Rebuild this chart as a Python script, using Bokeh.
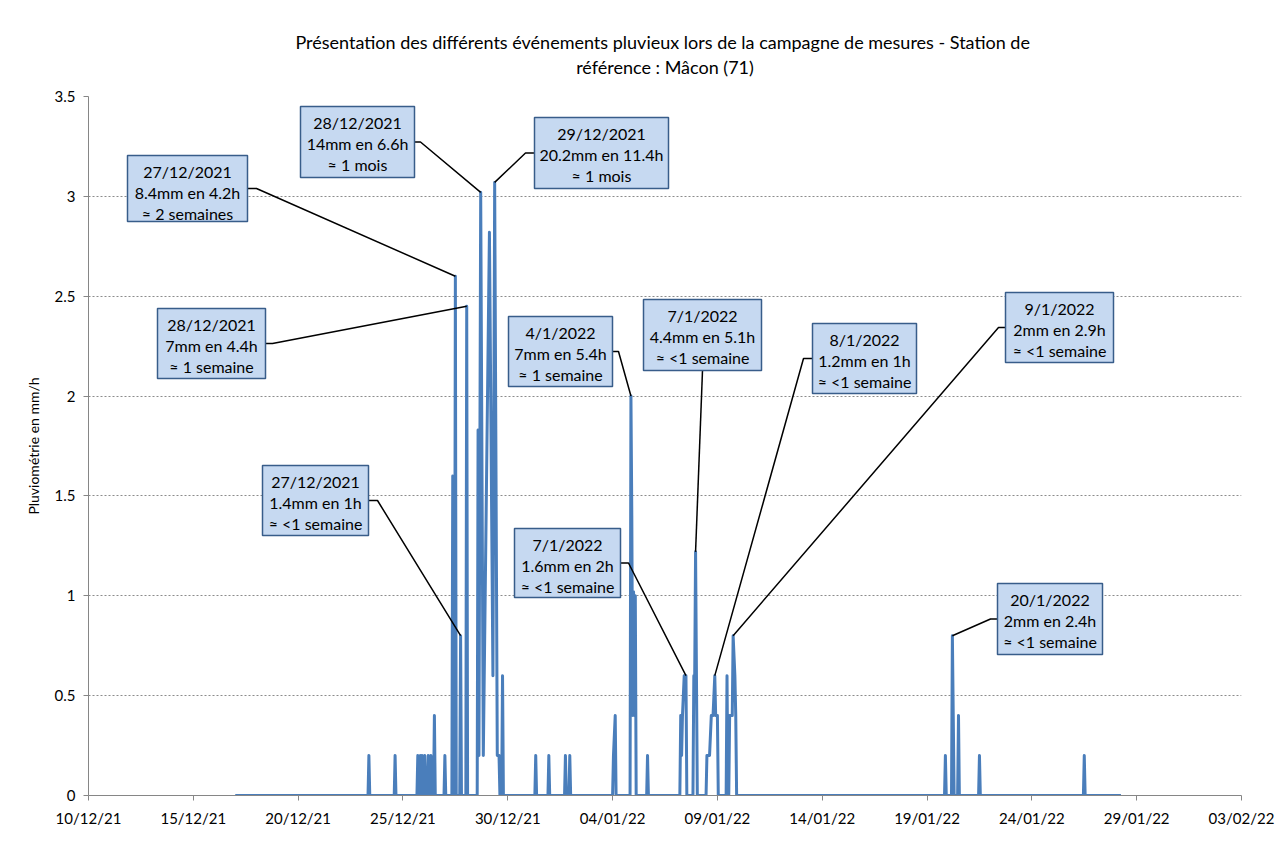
import datetime as dt
from bokeh.plotting import figure
from bokeh.models import (Range1d, FixedTicker, DatetimeTickFormatter, NumeralTickFormatter, Title)
from bokeh.embed import file_html
from bokeh.resources import INLINE
from bokeh.core.properties import value

# ---------------------------------------------------------------- data
TITLE_LINES = ["Présentation des différents événements pluvieux lors de la campagne de mesures  - Station de",
               "référence : Mâcon (71)"]
Y_LABEL = "Pluviométrie en mm/h"

rain_time = [
    "2021-12-17 00:00",
    "2021-12-23 08:00", "2021-12-23 09:00", "2021-12-23 10:00",
    "2021-12-24 14:00", "2021-12-24 15:00", "2021-12-24 16:00",
    "2021-12-25 16:00", "2021-12-25 17:00", "2021-12-25 18:00", "2021-12-25 19:00", "2021-12-25 20:00",
    "2021-12-25 21:00", "2021-12-25 22:00", "2021-12-25 23:00",
    "2021-12-26 00:00", "2021-12-26 01:00", "2021-12-26 02:00",
    "2021-12-26 04:00", "2021-12-26 05:00", "2021-12-26 06:00", "2021-12-26 07:00", "2021-12-26 08:00",
    "2021-12-26 09:00",
    "2021-12-26 11:00", "2021-12-26 12:00", "2021-12-26 13:00",
    "2021-12-26 23:00", "2021-12-27 00:00", "2021-12-27 01:00",
    "2021-12-27 08:00", "2021-12-27 09:00", "2021-12-27 10:00", "2021-12-27 11:00", "2021-12-27 12:00",
    "2021-12-27 13:00",
    "2021-12-27 17:00", "2021-12-27 18:00", "2021-12-27 19:00",
    "2021-12-28 00:00", "2021-12-28 01:00", "2021-12-28 02:00",
    "2021-12-28 13:00", "2021-12-28 14:00", "2021-12-28 15:00", "2021-12-28 17:00", "2021-12-28 20:00",
    "2021-12-29 03:00", "2021-12-29 07:00", "2021-12-29 09:00", "2021-12-29 12:00", "2021-12-29 14:00",
    "2021-12-29 15:00", "2021-12-29 17:00", "2021-12-29 18:00", "2021-12-29 19:00",
    "2021-12-31 07:00", "2021-12-31 08:00", "2021-12-31 09:00",
    "2021-12-31 22:00", "2021-12-31 23:00", "2022-01-01 00:00",
    "2022-01-01 17:00", "2022-01-01 18:00", "2022-01-01 19:00",
    "2022-01-01 22:00", "2022-01-01 23:00", "2022-01-02 00:00",
    "2022-01-04 00:00", "2022-01-04 01:00", "2022-01-04 03:00", "2022-01-04 04:00",
    "2022-01-04 20:00", "2022-01-04 21:00", "2022-01-04 22:00", "2022-01-04 23:00", "2022-01-05 00:00",
    "2022-01-05 01:00", "2022-01-05 02:00", "2022-01-05 03:00",
    "2022-01-05 15:00", "2022-01-05 16:00", "2022-01-05 17:00",
    "2022-01-07 05:00", "2022-01-07 06:00", "2022-01-07 07:00", "2022-01-07 08:00", "2022-01-07 10:00",
    "2022-01-07 12:00", "2022-01-07 13:00",
    "2022-01-07 20:00", "2022-01-07 21:00", "2022-01-07 22:00", "2022-01-07 23:00", "2022-01-08 00:00",
    "2022-01-08 01:00",
    "2022-01-08 11:00", "2022-01-08 12:00", "2022-01-08 15:00", "2022-01-08 17:00", "2022-01-08 19:00",
    "2022-01-08 21:00", "2022-01-08 22:00", "2022-01-09 00:00", "2022-01-09 01:00",
    "2022-01-09 10:00", "2022-01-09 11:00", "2022-01-09 12:00", "2022-01-09 13:00", "2022-01-09 14:00",
    "2022-01-09 17:00", "2022-01-09 18:00", "2022-01-09 20:00", "2022-01-09 21:00", "2022-01-09 22:00",
    "2022-01-19 20:00", "2022-01-19 21:00", "2022-01-19 22:00",
    "2022-01-20 04:00", "2022-01-20 05:00", "2022-01-20 06:00", "2022-01-20 07:00",
    "2022-01-20 11:00", "2022-01-20 12:00", "2022-01-20 13:00",
    "2022-01-21 11:00", "2022-01-21 12:00", "2022-01-21 13:00",
    "2022-01-26 11:00", "2022-01-26 12:00", "2022-01-26 13:00",
    "2022-01-28 06:00",
]
rain_mm_h = [
    0,
    0, 0.2, 0,
    0, 0.2, 0,
    0, 0.2, 0, 0, 0.2,
    0, 0.2, 0,
    0, 0.2, 0,
    0, 0.2, 0, 0, 0.2,
    0,
    0, 0.4, 0,
    0, 0.2, 0,
    0, 1.6, 0, 0, 2.6,
    0,
    0, 0.8, 0,
    0, 2.45, 0,
    0, 1.83, 0.2, 3.02, 0.2,
    2.82, 0.6, 3.07, 0.2, 0.2,
    0, 0, 0.6, 0,
    0, 0.2, 0,
    0, 0.2, 0,
    0, 0.2, 0,
    0, 0.2, 0,
    0, 0.2, 0.4, 0,
    0, 2.0, 1.4, 0.4, 1.02,
    0.4, 1.0, 0,
    0, 0.2, 0,
    0, 0.4, 0.2, 0.4, 0.6,
    0.6, 0,
    0, 0.6, 0.6, 1.22, 0.6,
    0,
    0, 0.2, 0.2, 0.4, 0.4,
    0.6, 0.4, 0.4, 0,
    0, 0.6, 0, 0, 0.4,
    0.4, 0.8, 0.6, 0.4, 0,
    0, 0.2, 0,
    0, 0.8, 0.4, 0,
    0, 0.4, 0,
    0, 0.2, 0,
    0, 0.2, 0,
    0,
]

x_tick_dates = ["2021-12-10", "2021-12-15", "2021-12-20", "2021-12-25", "2021-12-30", "2022-01-04",
                "2022-01-09", "2022-01-14", "2022-01-19", "2022-01-24", "2022-01-29", "2022-02-03"]
x_tick_labels = ["10/12/21", "15/12/21", "20/12/21", "25/12/21", "30/12/21", "04/01/22",
                 "09/01/22", "14/01/22", "19/01/22", "24/01/22", "29/01/22", "03/02/22"]
y_ticks = [0, 0.5, 1, 1.5, 2, 2.5, 3, 3.5]
y_tick_labels = ["0", "0.5", "1", "1.5", "2", "2.5", "3", "3.5"]

ann_date = ["27/12/2021", "28/12/2021", "29/12/2021", "28/12/2021", "27/12/2021", "4/1/2022",
            "7/1/2022", "7/1/2022", "8/1/2022", "9/1/2022", "20/1/2022"]
ann_amount = ["8.4mm en 4.2h", "14mm en 6.6h", "20.2mm en 11.4h", "7mm en 4.4h", "1.4mm en 1h",
              "7mm en 5.4h", "1.6mm en 2h", "4.4mm en 5.1h", "1.2mm en 1h", "2mm en 2.9h", "2mm en 2.4h"]
ann_return = ["≈ 2 semaines", "≈ 1 mois", "≈ 1 mois", "≈ 1 semaine", "≈ <1 semaine", "≈ 1 semaine",
              "≈ <1 semaine", "≈ <1 semaine", "≈ <1 semaine", "≈ <1 semaine", "≈ <1 semaine"]
ann_target = ["2021-12-27 12:00", "2021-12-28 17:00", "2021-12-29 09:00", "2021-12-28 01:00",
              "2021-12-27 18:00", "2022-01-04 21:00", "2022-01-07 12:00", "2022-01-07 23:00",
              "2022-01-08 21:00", "2022-01-09 18:00", "2022-01-20 05:00"]

# --------------------------------------------------------- layout (px in chart frame)
# box: left, top, right, bottom, side of leader, x of leader elbow
ann_box_px = [
    (127, 155, 247, 221, "right", 256),
    (300, 106, 414, 177, "right", 420),
    (534, 117, 668, 188, "left", 525),
    (157, 308, 265, 378, "right", 272),
    (262, 465, 368, 535, "right", 377),
    (508, 316, 612, 386, "right", 618),
    (514, 528, 620, 597, "right", 628),
    (643, 299, 761, 370, "bottom", None),
    (812, 323, 916, 393, "left", 803),
    (1005, 292, 1113, 362, "left", 998),
    (997, 583, 1102, 654, "left", 990),
]

X0 = dt.datetime(2021, 12, 10)
X1 = dt.datetime(2022, 2, 3)
FL, FT, FR, FB = 88, 96, 1241, 795
DAYS = (X1 - X0).days


def px_x(px):
    return X0 + dt.timedelta(days=(px - FL) * DAYS / (FR - FL))


def px_y(py):
    return (FB - py) * 3.5 / (FB - FT)


def parse(s):
    return dt.datetime.strptime(s, "%Y-%m-%d %H:%M")


def ms(d):
    return d.replace(tzinfo=dt.timezone.utc).timestamp() * 1000.0


times = [parse(s) for s in rain_time]

p = figure(width=1278, height=839, x_axis_type="datetime",
           x_range=Range1d(X0, X1), y_range=Range1d(0, 3.5),
           output_backend="svg", toolbar_location=None,
           min_border_left=88, min_border_right=37, min_border_top=96, min_border_bottom=44)
p.outline_line_color = None
p.background_fill_color = "white"
p.border_fill_color = "white"

FONT = "Lato"
AX = "#868686"

# axes
tick_ms = [ms(dt.datetime.strptime(s, "%Y-%m-%d")) for s in x_tick_dates]
p.xaxis.ticker = FixedTicker(ticks=tick_ms)
p.xaxis.formatter = DatetimeTickFormatter(days="%d/%m/%y", months="%d/%m/%y", years="%d/%m/%y",
                                          hours="%d/%m/%y", minutes="%d/%m/%y")
p.xaxis.major_label_overrides = {t: l for t, l in zip(tick_ms, x_tick_labels)}
p.yaxis.ticker = FixedTicker(ticks=y_ticks)
p.yaxis.formatter = NumeralTickFormatter(format="0.[0]")
p.yaxis.major_label_overrides = {float(t): l for t, l in zip(y_ticks, y_tick_labels)}

for ax in (p.xaxis, p.yaxis):
    ax.axis_line_color = AX
    ax.axis_line_width = 1
    ax.major_tick_line_color = AX
    ax.major_tick_out = 5
    ax.major_tick_in = 0
    ax.minor_tick_line_color = None
    ax.major_label_text_font = FONT
    ax.major_label_text_font_size = "15px"
    ax.major_label_text_color = "#000000"
p.xaxis.major_label_standoff = 8
p.yaxis.major_label_standoff = 8
p.yaxis.axis_label = Y_LABEL
p.yaxis.axis_label_text_font = FONT
p.yaxis.axis_label_text_font_size = "14px"
p.yaxis.axis_label_text_font_style = "normal"
p.yaxis.axis_label_text_color = "#000000"
p.yaxis.axis_label_standoff = 10

p.xgrid.grid_line_color = None
p.ygrid.grid_line_color = "#8c8c8c"
p.ygrid.grid_line_dash = "2 2"
p.ygrid.grid_line_width = 1

# series
p.line(x=times, y=rain_mm_h, line_color="#4A7EBB", line_width=3, line_join="round")

# annotations
val_at = {s: v for s, v in zip(rain_time, rain_mm_h)}
lx, ly = [], []
bl, br, bt, bb = [], [], [], []
tx, ty, tt = [], [], []
for i, (l, t, r, b, side, ex) in enumerate(ann_box_px):
    anchor = (parse(ann_target[i]), val_at[ann_target[i]])
    mid = (t + b) / 2
    if side == "right":
        xs = [px_x(r), px_x(ex), anchor[0]]
        ys = [px_y(mid), px_y(mid), anchor[1]]
    elif side == "left":
        xs = [px_x(l), px_x(ex), anchor[0]]
        ys = [px_y(mid), px_y(mid), anchor[1]]
    else:
        xs = [px_x((l + r) / 2), anchor[0]]
        ys = [px_y(b), anchor[1]]
    lx.append(xs)
    ly.append(ys)
    bl.append(px_x(l)); br.append(px_x(r)); bt.append(px_y(t)); bb.append(px_y(b))
    cx = px_x((l + r) / 2)
    for k, txt in enumerate((ann_date[i], ann_amount[i], ann_return[i])):
        tx.append(cx)
        ty.append(px_y(t + 16 + 21 * k))
        tt.append(txt)

p.multi_line(xs=lx, ys=ly, line_color="#000000", line_width=1.5)
p.quad(left=bl, right=br, top=bt, bottom=bb, fill_color="#C6D9F1", line_color="#385D8A", line_width=1.5)
p.text(x=tx, y=ty, text=tt, text_align="center", text_baseline="middle",
       text_font=value(FONT), text_font_size="16px", text_color="#000000")

# title: spacer, then two stacked lines (inner ones added first)
p.add_layout(Title(text=" ", text_font_size="1px", standoff=11), "above")
p.add_layout(Title(text=TITLE_LINES[1], align="center", vertical_align="top", text_font=FONT,
                   text_font_size="18px", text_font_style="normal", text_color="#000000",
                   standoff=6), "above")
p.add_layout(Title(text=TITLE_LINES[0], align="center", vertical_align="bottom", text_font=FONT,
                   text_font_size="18px", text_font_style="normal", text_color="#000000",
                   standoff=0), "above")

open("out.html", "w").write(file_html(p, INLINE))
